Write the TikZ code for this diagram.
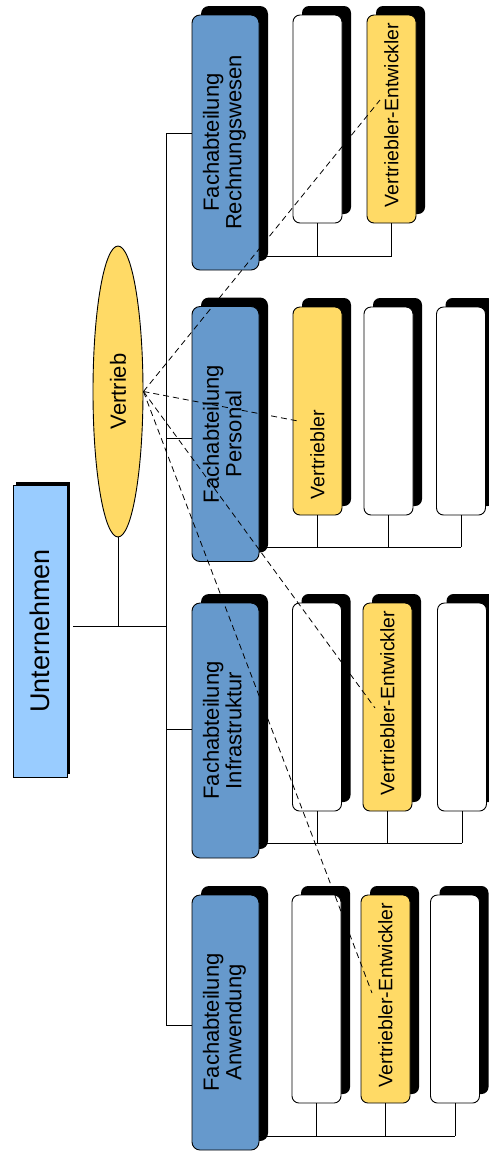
\documentclass[tikz,border=0pt]{standalone}
\usepackage{fontspec}
\usepackage{graphicx}
\setmainfont{Liberation Sans}
\usetikzlibrary{shapes.geometric,shadows}

\definecolor{deptblue}{HTML}{6699CC}
\definecolor{topblue}{HTML}{99CCFF}
\definecolor{salesyellow}{HTML}{FFDA66}

\tikzset{
  topbox/.style={draw, fill=topblue, line width=0.9pt, minimum width=54pt, minimum height=292pt,
    inner sep=0pt, general shadow={shadow xshift=3pt, shadow yshift=3pt, fill=black}},
  salesellipse/.style={ellipse, draw, fill=salesyellow, line width=0.9pt, minimum width=50pt,
    minimum height=291pt, inner sep=0pt},
  deptbox/.style={draw, fill=deptblue, rounded corners=8pt, line width=0.9pt, minimum width=67pt,
    minimum height=255pt, inner sep=0pt, general shadow={shadow xshift=9pt, shadow yshift=9pt, fill=black}},
  rolebox/.style={draw, fill=white, rounded corners=7pt, line width=0.9pt, minimum width=49pt,
    minimum height=208pt, inner sep=0pt, general shadow={shadow xshift=9pt, shadow yshift=9pt, fill=black}},
  salesbox/.style={rolebox, fill=salesyellow},
  orgline/.style={line width=0.9pt},
  salesline/.style={line width=0.8pt, dash pattern=on 6pt off 4pt}
}

\newcommand{\depttext}[1]{\rotatebox{90}{\fontsize{22}{22}\selectfont\begin{tabular}{@{}c@{}}#1\end{tabular}}}
\newcommand{\roletext}[1]{\rotatebox{90}{\makebox[176pt][l]{\fontsize{19.5}{20}\selectfont #1}}}

\begin{document}
\begin{tikzpicture}[x=1pt, y=-1pt]
  \useasboundingbox (0,0) rectangle (488,1160);

  % top level
  \node[topbox] (un) at (40,631) {\rotatebox{90}{\fontsize{27}{27}\selectfont Unternehmen}};
  \node[salesellipse] (ve) at (118,391.5) {\rotatebox{90}{\fontsize{22}{22}\selectfont Vertrieb}};

  % departments
  \node[deptbox] (rw) at (225.5,142.5) {\depttext{Fachabteilung\\Rechnungswesen}};
  \node[deptbox] (pe) at (225.5,434) {\depttext{Fachabteilung\\Personal}};
  \node[deptbox] (in) at (225.5,730.5) {\depttext{Fachabteilung\\Infrastruktur}};
  \node[deptbox] (an) at (225.5,1022.5) {\depttext{Fachabteilung\\Anwendung}};

  % roles
  \node[rolebox] (rw1) at (317.5,119) {};
  \node[salesbox] (rw2) at (391.5,119) {\roletext{Vertriebler-Entwickler}};
  \node[salesbox] (pe1) at (317.5,411) {\roletext{Vertriebler}};
  \node[rolebox] (pe2) at (388.5,411) {};
  \node[rolebox] (pe3) at (461,411) {};
  \node[rolebox] (in1) at (317,707) {};
  \node[salesbox] (in2) at (387.5,707) {\roletext{Vertriebler-Entwickler}};
  \node[rolebox] (in3) at (462,707) {};
  \node[rolebox] (an1) at (316.5,999) {};
  \node[salesbox] (an2) at (385.5,999) {\roletext{Vertriebler-Entwickler}};
  \node[rolebox] (an3) at (455,999) {};

  % tree lines
  \coordinate (trunktop) at (166,133);
  \coordinate (trunkbot) at (166,1025);
  \coordinate (unjoin) at (166,626);
  \begin{scope}[orgline]
    \draw (trunktop) -- (trunkbot);
    \draw (trunktop) -- (rw.west |- trunktop);
    \draw (166,438) -- (pe.west |- 0,438);
    \draw (166,729) -- (in.west |- 0,729);
    \draw (trunkbot) -- (an.west |- trunkbot);
    \draw ([xshift=6pt]un.east |- unjoin) -- (unjoin);
    \draw (ve.south) -- (ve.south |- unjoin);

    \draw (rw.east |- 0,256) -- (rw2.south |- 0,256);
    \draw (rw1.south) -- (rw1.south |- 0,256);
    \draw (rw2.south) -- (rw2.south |- 0,256);

    \draw (pe.east |- 0,547) -- (pe3.south |- 0,547);
    \draw (pe1.south) -- (pe1.south |- 0,547);
    \draw (pe2.south) -- (pe2.south |- 0,547);
    \draw (pe3.south) -- (pe3.south |- 0,547);

    \draw (in.east |- 0,843) -- (in3.south |- 0,843);
    \draw (in1.south) -- (in1.south |- 0,843);
    \draw (in2.south) -- (in2.south |- 0,843);
    \draw (in3.south) -- (in3.south |- 0,843);

    \draw (an.east |- 0,1136) -- (an3.south |- 0,1136);
    \draw (an1.south) -- (an1.south |- 0,1136);
    \draw (an2.south) -- (an2.south |- 0,1136);
    \draw (an3.south) -- (an3.south |- 0,1136);
  \end{scope}

  % sales links
  \coordinate (s1) at (380,100);
  \coordinate (s2) at (298,421);
  \coordinate (s3) at (375,708);
  \coordinate (s4) at (372,993);
  \draw[salesline] (ve.east) -- (s1);
  \draw[salesline] (ve.east) -- (s2);
  \draw[salesline] (ve.east) -- (s3);
  \draw[salesline] (ve.east) -- (s4);
\end{tikzpicture}
\end{document}
